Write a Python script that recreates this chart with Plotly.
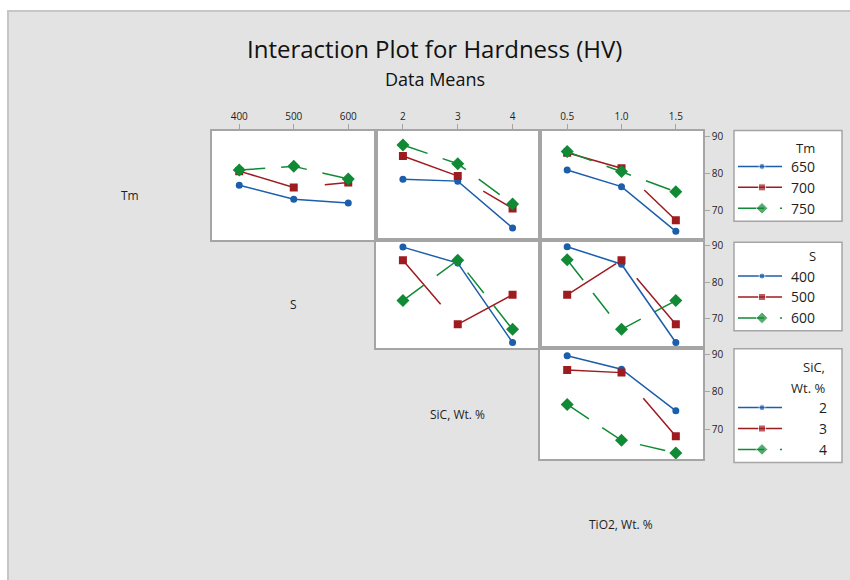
import plotly.graph_objects as go

W, H = 850, 580

# ---- factor levels -------------------------------------------------------
tm_levels = [650, 700, 750]
s_levels = [400, 500, 600]
sic_levels = [2, 3, 4]
tio2_levels = [0.5, 1.0, 1.5]

factor_names = ["Tm", "S", "SiC, Wt. %", "TiO2, Wt. %"]
legend_titles = [["Tm"], ["S"], ["SiC,", "Wt. %"]]
x_ticktext = [["400", "500", "600"], ["2", "3", "4"], ["0.5", "1.0", "1.5"]]
y_ticks = [70, 80, 90]

# ---- mean hardness (HV) ---------------------------------------------------
# one row per level of the line factor, one value per level of the x factor
hv_tm_by_s = [[76.8, 73.0, 72.0], [80.6, 76.2, 77.5], [80.9, 81.9, 78.5]]
hv_tm_by_sic = [[78.4, 77.9, 65.2], [84.7, 79.3, 70.5], [87.7, 82.6, 71.7]]
hv_tm_by_tio2 = [[80.9, 76.4, 64.3], [85.6, 81.4, 67.3], [85.9, 80.5, 75.0]]
hv_s_by_sic = [[89.7, 85.3, 63.5], [86.1, 68.5, 76.6], [75.0, 86.1, 67.1]]
hv_s_by_tio2 = [[89.8, 85.0, 63.5], [76.6, 86.1, 68.5], [86.2, 67.1, 75.0]]
hv_sic_by_tio2 = [[89.6, 86.0, 74.9], [85.8, 85.1, 68.1], [76.6, 67.0, 63.6]]

line_levels = [tm_levels, s_levels, sic_levels]       # rows
x_levels = [s_levels, sic_levels, tio2_levels]        # columns
panels = [
    (0, 0, hv_tm_by_s), (0, 1, hv_tm_by_sic), (0, 2, hv_tm_by_tio2),
    (1, 1, hv_s_by_sic), (1, 2, hv_s_by_tio2),
    (2, 2, hv_sic_by_tio2),
]

# ---- styling --------------------------------------------------------------
FONT = "Open Sans"
TEXT = "#1e1e1e"
PAGE = "#e3e3e3"
FRAME = "#a5a5a5"
colors = ["#1b5eab", "#9e1b20", "#108a34"]
symbols = ["circle", "square", "diamond"]
msizes = [7, 8, 10]
dashes = ["solid", "58px,30px", "26px,16px"]
Y_RANGE = [61.9, 91.6]

col_edges = [212, 375.5, 540, 703]     # px, left to right
row_edges = [129, 239, 347.5, 459]     # px, top to bottom


def px_x(v):
    return v / W


def px_y(v):
    return 1 - v / H


fig = go.Figure()
layout = {}
shapes = [
    dict(type="rect", xref="paper", yref="paper", layer="below",
         x0=px_x(8), x1=1.02, y0=-0.02, y1=px_y(9),
         fillcolor=PAGE, line=dict(color="#c6c6c6", width=2)),
]

for k, (r, c, vals) in enumerate(panels, start=1):
    sx = "" if k == 1 else str(k)
    xref, yref = "x" + sx, "y" + sx
    levels = x_levels[c]
    step = levels[1] - levels[0]
    layout["xaxis" + sx] = dict(
        domain=[px_x(col_edges[c]), px_x(col_edges[c + 1])],
        range=[levels[0] - step / 2, levels[-1] + step / 2],
        anchor=yref, side="top",
        tickvals=levels, ticktext=x_ticktext[c],
        showticklabels=(r == 0), ticks="outside" if r == 0 else "",
        ticklen=5, tickcolor=FRAME, tickwidth=1,
        tickfont=dict(family=FONT, size=10, color=TEXT),
        showline=True, mirror=True, linecolor=FRAME, linewidth=1.5,
        showgrid=False, zeroline=False, fixedrange=True,
    )
    layout["yaxis" + sx] = dict(
        domain=[px_y(row_edges[r + 1]), px_y(row_edges[r])],
        range=Y_RANGE, anchor=xref, side="right",
        tickvals=y_ticks,
        showticklabels=(c == 2), ticks="outside" if c == 2 else "",
        ticklen=5, tickcolor=FRAME, tickwidth=1,
        tickfont=dict(family=FONT, size=10, color=TEXT),
        showline=True, mirror=True, linecolor=FRAME, linewidth=1.5,
        showgrid=False, zeroline=False, fixedrange=True,
    )
    shapes.append(dict(type="rect", xref=xref + " domain", yref=yref + " domain",
                       x0=0, x1=1, y0=0, y1=1, layer="below",
                       fillcolor="white", line=dict(width=0)))
    for i, lvl in enumerate(line_levels[r]):
        fig.add_trace(go.Scatter(
            x=levels, y=vals[i], xaxis=xref, yaxis=yref,
            mode="lines+markers", name=f"{factor_names[r]} {lvl}",
            line=dict(color=colors[i], width=1.5, dash=dashes[i]),
            marker=dict(symbol=symbols[i], size=msizes[i], color=colors[i]),
            showlegend=False, hoverinfo="x+y+name",
        ))

# ---- legend boxes (drawn on a pixel-scaled helper axis) --------------------
layout["xaxis7"] = dict(domain=[px_x(725), 1], range=[725, W], anchor="y7",
                        visible=False, fixedrange=True)
layout["yaxis7"] = dict(domain=[0, 1], range=[H, 0], anchor="x7",
                        visible=False, fixedrange=True)

box_left, box_right = 734, 842
box_spans = [(129, 220), (241, 330), (348, 462)]
first_title = [18, 14, 18]
title_gap = 21
first_entry = [36, 34, 59]
entry_gap = 21
key_x = [738, 762, 782]
title_right = [817, 818, 827]

annotations = []
for b, (top, bottom) in enumerate(box_spans):
    shapes.append(dict(type="rect", xref="paper", yref="paper", layer="below",
                       x0=px_x(box_left), x1=px_x(box_right),
                       y0=px_y(bottom), y1=px_y(top),
                       fillcolor="white", line=dict(color=FRAME, width=1.5)))
    for j, part in enumerate(legend_titles[b]):
        annotations.append(dict(
            text=part, xref="paper", yref="paper",
            x=px_x(title_right[b]), y=px_y(top + first_title[b] + title_gap * j),
            xanchor="right", yanchor="middle", showarrow=False,
            font=dict(family=FONT, size=13, color=TEXT)))
    for i, lvl in enumerate(line_levels[b]):
        yy = top + first_entry[b] + entry_gap * i
        fig.add_trace(go.Scatter(
            x=key_x, y=[yy] * 3, xaxis="x7", yaxis="y7",
            mode="lines+markers", showlegend=False, hoverinfo="skip",
            line=dict(color=colors[i], width=1.5, dash=dashes[i]),
            marker=dict(symbol=symbols[i], color=colors[i],
                        size=[0, msizes[i] - 1, 0]),
        ))
        label = str(lvl)
        if b == 2:
            annotations.append(dict(
                text=label, xref="paper", yref="paper", x=px_x(829), y=px_y(yy),
                xanchor="right", yanchor="middle", showarrow=False,
                font=dict(family=FONT, size=14, color=TEXT)))
        else:
            annotations.append(dict(
                text=label, xref="paper", yref="paper", x=px_x(789), y=px_y(yy),
                xanchor="left", yanchor="middle", showarrow=False,
                font=dict(family=FONT, size=14, color=TEXT)))

# ---- factor names on the diagonal ------------------------------------------
cell_w = col_edges[1] - col_edges[0]
cell_h = row_edges[1] - row_edges[0]
for d, name in enumerate(factor_names):
    cx = col_edges[0] + cell_w * (d - 0.5)
    cy = row_edges[0] + cell_h * (d + 0.5) + 10
    annotations.append(dict(
        text=name, xref="paper", yref="paper", x=px_x(cx), y=px_y(cy),
        xanchor="center", yanchor="middle", showarrow=False,
        font=dict(family=FONT, size=12, color=TEXT)))

# ---- titles ---------------------------------------------------------------
annotations.append(dict(
    text="Interaction Plot for Hardness (HV)", xref="paper", yref="paper",
    x=px_x(434), y=px_y(47), xanchor="center", yanchor="middle",
    showarrow=False, font=dict(family=FONT, size=24, color="#111111")))
annotations.append(dict(
    text="Data Means", xref="paper", yref="paper",
    x=px_x(435), y=px_y(77), xanchor="center", yanchor="middle",
    showarrow=False, font=dict(family=FONT, size=18, color="#111111")))

fig.update_layout(
    width=W, height=H, autosize=False,
    margin=dict(l=0, r=0, t=0, b=0),
    paper_bgcolor="white", plot_bgcolor="rgba(0,0,0,0)",
    shapes=shapes, annotations=annotations, showlegend=False,
    **layout,
)

fig.write_html("out.html")
